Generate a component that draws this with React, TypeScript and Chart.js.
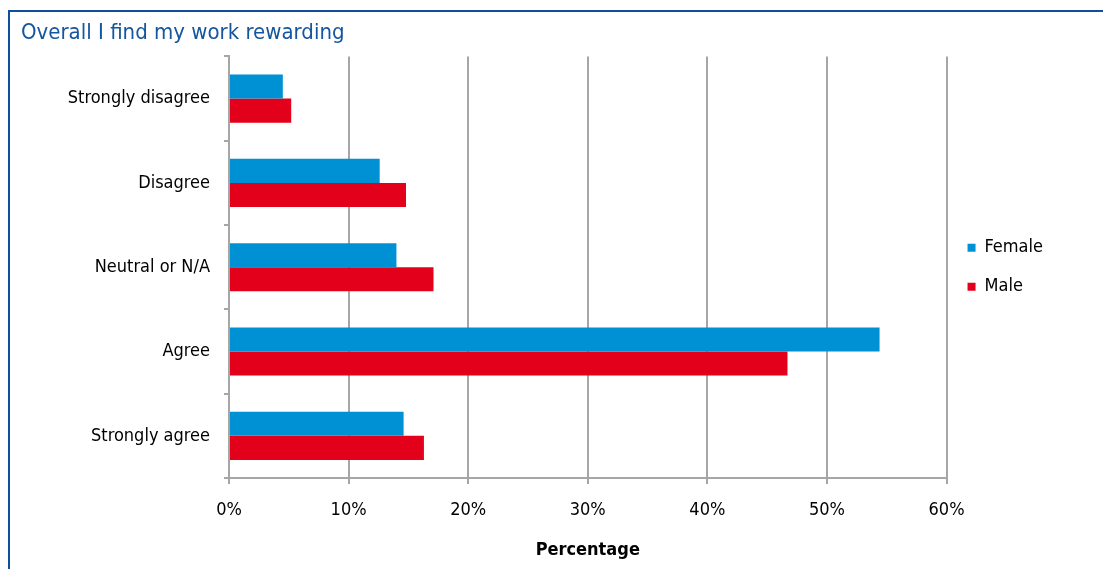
import React, { useEffect, useRef } from "react";
import { Chart, registerables } from "chart.js";

Chart.register(...registerables);

const categories = ["Strongly disagree", "Disagree", "Neutral or N/A", "Agree", "Strongly agree"];
const femaleValues = [4.5, 12.6, 14.0, 54.4, 14.6];
const maleValues = [5.2, 14.8, 17.1, 46.7, 16.3];
const xTicks = [0, 10, 20, 30, 40, 50, 60];
const titleText = "Overall I find my work rewarding";
const xTitle = "Percentage";

const FONT = '"Liberation Sans Narrow", "Arial Narrow", "DejaVu Sans Condensed", sans-serif';
const W = 1103;
const H = 569;

export default function App() {
  const ref = useRef<HTMLCanvasElement | null>(null);
  useEffect(() => {
    if (!ref.current) return;
    const chart = new Chart(ref.current, {
      type: "bar",
      data: {
        labels: categories,
        datasets: [
          { label: "Female", data: femaleValues, backgroundColor: "#0091d5", borderWidth: 0, categoryPercentage: 0.571, barPercentage: 1 },
          { label: "Male", data: maleValues, backgroundColor: "#e2001a", borderWidth: 0, categoryPercentage: 0.571, barPercentage: 1 },
        ],
      },
      options: {
        indexAxis: "y",
        animation: false,
        responsive: false,
        devicePixelRatio: 1,
        layout: { padding: { left: 21, top: 0, right: 50, bottom: 0 } },
        font: { family: FONT },
        plugins: {
          tooltip: { enabled: false },
          title: {
            display: true,
            text: titleText,
            align: "start",
            color: "#1556a0",
            font: { family: FONT, size: 22, weight: "normal" },
            padding: { top: 20, bottom: 10 },
          },
          legend: {
            position: "right",
            fullSize: false,
            labels: {
              boxWidth: 8,
              boxHeight: 8,
              padding: 21,
              color: "#000",
              font: { family: FONT, size: 18 },
            },
          },
        },
        scales: {
          x: {
            type: "linear",
            min: 0,
            max: 60,
            afterBuildTicks: (s: any) => {
              s.ticks = xTicks.map((v) => ({ value: v }));
            },
            afterFit: (s: any) => {
              s.height = H - 478;
            },
            ticks: {
              color: "#000",
              font: { family: FONT, size: 18 },
              padding: 16,
              callback: (v: any) => v + "%",
            },
            grid: { color: "#a6a6a6", lineWidth: 2, tickLength: 6, drawTicks: true },
            border: { color: "#a6a6a6", width: 2 },
            title: {
              display: true,
              text: xTitle,
              color: "#000",
              font: { family: FONT, size: 18, weight: "bold" },
              padding: { top: 0, bottom: 8 },
            },
          },
          y: {
            type: "category",
            afterFit: (s: any) => {
              s.width = 229 - 21;
            },
            ticks: {
              color: "#000",
              font: { family: FONT, size: 18 },
              padding: 14,
            },
            grid: {
              color: "#a6a6a6",
              lineWidth: 2,
              drawOnChartArea: false,
              drawTicks: true,
              tickLength: 5,
              offset: true,
            },
            border: { color: "#a6a6a6", width: 2 },
          },
        },
      },
    });
    return () => chart.destroy();
  }, []);

  return (
    <div style={{ position: "absolute", left: 0, top: 0, width: W, height: H, overflow: "hidden", background: "#fff" }}>
      <div
        style={{
          position: "absolute",
          left: 8,
          top: 10,
          width: W + 50,
          height: H + 50,
          borderTop: "2px solid #0e4f97",
          borderLeft: "2px solid #0e4f97",
          boxSizing: "border-box",
        }}
      />
      <canvas ref={ref} width={W} height={H} style={{ position: "absolute", left: 0, top: 0, width: W, height: H }} />
    </div>
  );
}
